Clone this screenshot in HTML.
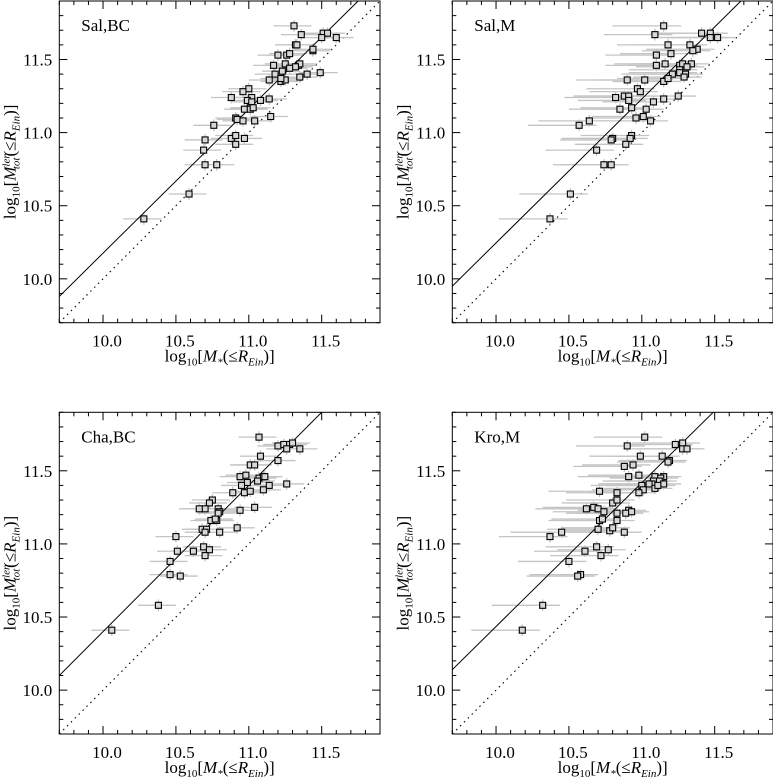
<!DOCTYPE html>
<html><head><meta charset="utf-8"><style>
html,body{margin:0;padding:0;background:#fff;}
svg{display:block;font-family:"Liberation Serif",serif;}
</style></head><body>
<svg id="fig" width="773" height="778" viewBox="0 0 773 778" xmlns="http://www.w3.org/2000/svg"></svg>
<script>
// Panel data (values in log10 solar masses)
const salBC_x=[11.31,11.36,11.51,11.54,11.50,11.60,11.32,11.33,11.26,11.20,11.28,11.44,11.44,11.17,11.25,11.34,11.35,11.32,11.28,11.18,11.23,11.14,11.22,11.25,11.22,11.35,11.40,11.49,11.00,10.96,10.88,11.02,10.99,11.02,11.01,10.97,11.08,11.14,11.01,11.03,10.91,10.92,10.96,11.04,11.15,10.76,10.70,10.88,10.91,10.97,10.91,10.69,10.70,10.78,10.59,10.28];
const salBC_y=[11.73,11.67,11.68,11.68,11.65,11.65,11.60,11.60,11.53,11.53,11.54,11.56,11.57,11.46,11.47,11.46,11.47,11.45,11.44,11.40,11.42,11.36,11.35,11.36,11.37,11.38,11.40,11.41,11.30,11.28,11.24,11.24,11.22,11.21,11.17,11.16,11.22,11.23,11.16,11.17,11.10,11.09,11.08,11.08,11.11,11.05,10.95,10.96,10.98,10.96,10.92,10.88,10.78,10.78,10.58,10.41];
const salM_x=[11.15,11.09,11.41,11.47,11.47,11.52,11.18,11.33,11.20,11.10,11.38,11.35,11.16,11.10,11.26,11.28,11.34,11.31,11.26,11.26,11.21,11.30,10.90,11.02,11.15,11.18,11.29,10.97,10.99,10.82,10.88,10.91,10.91,11.08,11.15,11.25,10.85,10.93,11.03,10.96,11.01,11.06,10.64,10.57,10.80,10.79,10.93,10.92,10.89,10.69,10.74,10.79,10.51,10.37];
const salM_y=[11.73,11.67,11.68,11.68,11.65,11.65,11.60,11.60,11.54,11.53,11.57,11.56,11.47,11.46,11.46,11.47,11.47,11.45,11.43,11.41,11.40,11.40,11.36,11.36,11.35,11.37,11.38,11.30,11.28,11.24,11.25,11.25,11.22,11.21,11.23,11.25,11.16,11.17,11.16,11.10,11.11,11.08,11.08,11.05,10.96,10.95,10.98,10.96,10.92,10.88,10.78,10.78,10.58,10.41];
const chaBC_x=[11.07,11.20,11.24,11.28,11.30,11.26,11.35,11.08,11.20,11.01,11.04,10.94,10.98,11.07,11.10,11.11,11.06,10.99,10.95,11.14,11.26,10.89,10.97,11.01,11.10,10.75,10.73,10.79,10.70,10.66,10.80,10.79,10.94,11.04,10.74,10.78,10.77,10.68,10.71,10.70,10.80,10.92,10.50,10.51,10.62,10.69,10.73,10.70,10.46,10.46,10.53,10.38,10.06];
const chaBC_y=[11.73,11.67,11.68,11.68,11.69,11.65,11.65,11.60,11.57,11.54,11.54,11.46,11.47,11.45,11.46,11.46,11.43,11.42,11.40,11.40,11.41,11.35,11.35,11.36,11.37,11.30,11.28,11.24,11.24,11.24,11.22,11.21,11.23,11.25,11.16,11.16,11.17,11.10,11.10,11.08,11.08,11.11,11.05,10.95,10.95,10.98,10.96,10.92,10.88,10.79,10.78,10.58,10.41];
const kroM_x=[11.02,10.90,11.23,11.28,11.28,11.31,10.99,11.14,11.19,11.18,10.88,10.94,10.98,10.91,11.09,11.15,11.13,11.12,11.08,11.07,11.05,11.15,11.00,11.01,11.09,11.11,10.98,10.71,10.83,10.80,10.83,10.62,10.67,10.70,10.91,10.89,10.74,10.83,10.93,10.71,10.73,10.83,10.70,10.78,10.80,10.88,10.45,10.37,10.61,10.69,10.77,10.72,10.50,10.58,10.56,10.32,10.18];
const kroM_y=[11.73,11.67,11.68,11.69,11.65,11.65,11.60,11.60,11.57,11.56,11.53,11.54,11.47,11.46,11.46,11.46,11.45,11.43,11.43,11.41,11.41,11.41,11.40,11.37,11.38,11.40,11.35,11.36,11.35,11.28,11.30,11.24,11.25,11.24,11.23,11.21,11.22,11.21,11.22,11.16,11.17,11.16,11.10,11.09,11.11,11.08,11.08,11.05,10.95,10.98,10.96,10.92,10.88,10.79,10.78,10.58,10.41];
// fit lines: [y at x=9.7, x where y=11.9]
const fitSalBC=[9.88,11.75];
const fitSalM=[9.95,11.68];
const fitChaBC=[10.10,11.50];
const fitKroM=[10.14,11.49];
const xTicks=[10.0,10.5,11.0,11.5];
const yTicks=[10.0,10.5,11.0,11.5];
const tickLabels=["10.0","10.5","11.0","11.5"];

const NS="http://www.w3.org/2000/svg";
const svg=document.getElementById('fig');
function mk(tag,attrs,parent){const e=document.createElementNS(NS,tag);for(const k in attrs)e.setAttribute(k,attrs[k]);(parent||svg).appendChild(e);return e;}
const LO=9.7,HI=11.9;
const panels=[
 {name:'sal-bc',label:'Sal,BC',x0:59.3,y0:1,xs:salBC_x,ys:salBC_y,fit:fitSalBC,elo:0.14,ehi:0.12},
 {name:'sal-m',label:'Sal,M',x0:452.3,y0:1,xs:salM_x,ys:salM_y,fit:fitSalM,elo:0.35,ehi:0.12},
 {name:'cha-bc',label:'Cha,BC',x0:59.3,y0:412.3,xs:chaBC_x,ys:chaBC_y,fit:fitChaBC,elo:0.14,ehi:0.12},
 {name:'kro-m',label:'Kro,M',x0:452.3,y0:412.3,xs:kroM_x,ys:kroM_y,fit:fitKroM,elo:0.35,ehi:0.12}
];
const W=320.7,H=321.7;
panels.forEach(p=>{
 const g=mk('g',{});
 
 
 const sx=v=>p.x0+(v-LO)/(HI-LO)*W;
 const sy=v=>p.y0+H-(v-LO)/(HI-LO)*H;
 const clip='clip-'+p.name;
 const cp=mk('clipPath',{id:clip},g);mk('rect',{x:p.x0,y:p.y0,width:W,height:H},cp);
 const inner=mk('g',{'clip-path':'url(#'+clip+')'},g);
 // one-to-one dotted
 const dl=mk('line',{x1:sx(LO),y1:sy(LO),x2:sx(HI),y2:sy(HI),stroke:'#000','stroke-width':1.1,'stroke-dasharray':'1.5,4'},inner);
 
 
 // error bars
 for(let i=0;i<p.xs.length;i++){
  const eb=mk('line',{x1:sx(p.xs[i]-p.elo),y1:sy(p.ys[i]),x2:sx(p.xs[i]+p.ehi),y2:sy(p.ys[i]),stroke:'#c4c4c4','stroke-width':1.3},inner);
  
  
  const ev=mk('line',{x1:sx(p.xs[i]),y1:sy(p.ys[i]-0.04),x2:sx(p.xs[i]),y2:sy(p.ys[i]+0.04),stroke:'#c4c4c4','stroke-width':1.3},inner);
  
  
 }
 // fit line
 const fl=mk('line',{x1:sx(LO),y1:sy(p.fit[0]),x2:sx(p.fit[1]),y2:sy(HI),stroke:'#000','stroke-width':1},inner);
 
 
 for(let i=0;i<p.xs.length;i++){
  const r=mk('rect',{x:sx(p.xs[i])-3,y:sy(p.ys[i])-3,width:6,height:6,fill:'#d8d8d8',stroke:'#000','stroke-width':1.1},inner);
  
  
 }
 // frame
 const fr=mk('rect',{x:p.x0,y:p.y0,width:W,height:H,fill:'none',stroke:'#000','stroke-width':1},g);
 
 
 // ticks
 for(let k=0;k<=22;k++){
  const v=LO+k*0.1; const major=Math.abs(v*2-Math.round(v*2))<1e-6; const L=major?8:4;
  const X=sx(v),Y=sy(v);
  mk('line',{x1:X,y1:p.y0+H,x2:X,y2:p.y0+H-L,stroke:'#000','stroke-width':1},g);
  mk('line',{x1:X,y1:p.y0,x2:X,y2:p.y0+L,stroke:'#000','stroke-width':1},g);
  mk('line',{x1:p.x0,y1:Y,x2:p.x0+L,y2:Y,stroke:'#000','stroke-width':1},g);
  mk('line',{x1:p.x0+W,y1:Y,x2:p.x0+W-L,y2:Y,stroke:'#000','stroke-width':1},g);
 }
 xTicks.forEach((v,i)=>{const t=mk('text',{x:sx(v)+4,y:p.y0+H+24,'font-size':17,'text-anchor':'middle'},g);t.textContent=tickLabels[i];
  
  });
 yTicks.forEach((v,i)=>{const t=mk('text',{x:p.x0-7,y:sy(v)+6,'font-size':17,'text-anchor':'end'},g);t.textContent=tickLabels[i];
  
  });
 const lab=mk('text',{x:p.x0+22,y:p.y0+30,'font-size':17},g);lab.textContent=p.label;
 
 
 // x title
 const xt=mk('text',{x:p.x0+W/2,y:p.y0+H+34+5,'font-size':17,'text-anchor':'middle'},g);
 
 
 xt.innerHTML='log<tspan font-size="11" dy="4">10</tspan><tspan dy="-4">[</tspan><tspan font-style="italic">M</tspan><tspan font-size="11" dy="4" font-style="italic">*</tspan><tspan dy="-4">(≤</tspan><tspan font-style="italic">R</tspan><tspan font-size="11" dy="4" font-style="italic">Ein</tspan><tspan dy="-4">)]</tspan>';
 // y title
 const cx=p.x0-44, cy=p.y0+H/2;
 const yt=mk('text',{x:cx,y:cy,'font-size':17,'text-anchor':'middle',transform:'rotate(-90 '+cx+' '+cy+')'},g);
 
 
 yt.innerHTML='log<tspan font-size="11" dy="4">10</tspan><tspan dy="-4">[</tspan><tspan font-style="italic">M</tspan><tspan font-size="11" dy="-6" font-style="italic">len</tspan><tspan font-size="11" dx="-16" dy="10" font-style="italic">tot</tspan><tspan dy="-4" dx="1">(≤</tspan><tspan font-style="italic">R</tspan><tspan font-size="11" dy="4" font-style="italic">Ein</tspan><tspan dy="-4">)]</tspan>';
});
</script>
</body></html>
